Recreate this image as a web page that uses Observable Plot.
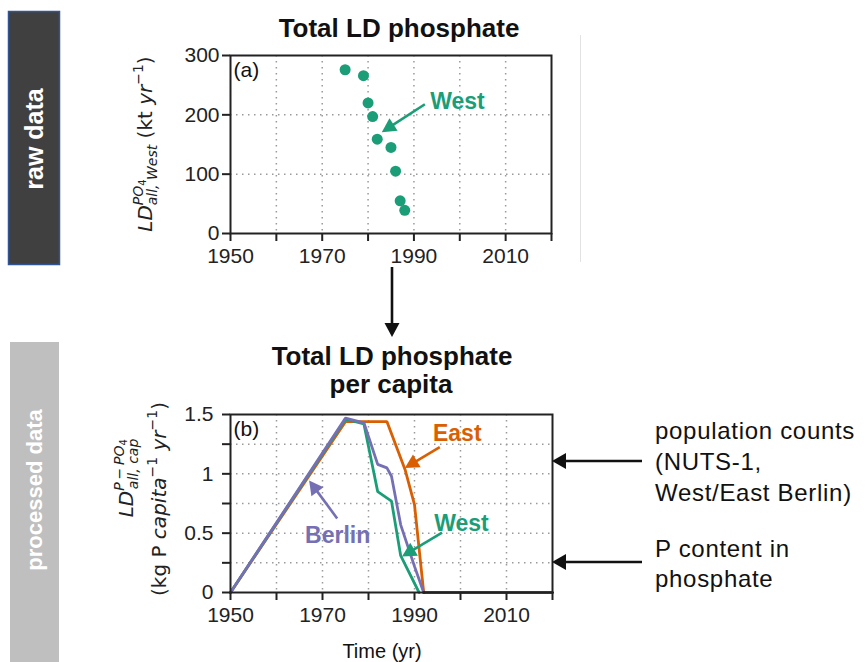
<!DOCTYPE html>
<html><head><meta charset="utf-8">
<script src="https://cdn.jsdelivr.net/npm/d3@7"></script>
<script src="https://cdn.jsdelivr.net/npm/@observablehq/plot@0.6"></script>
<style>
body{margin:0;background:#fff;}
#root{position:relative;width:866px;height:662px;overflow:hidden;font-family:"Liberation Sans",Arial,sans-serif;background:#fff;}
#root svg{position:absolute;left:0;}
</style></head><body><div id="root"></div>
<script>
// ---------- data ----------
const xTicks = [1950, 1960, 1970, 1980, 1990, 2000, 2010, 2020];
const xTickLabels = [1950, 1970, 1990, 2010];
const xGrid = [1960, 1970, 1980, 1990, 2000, 2010];

// panel (a): raw data, West
const topYTicks = [0, 100, 200, 300];
const topYGrid = [100, 200];
const westRawYear = [1975, 1979, 1980, 1981, 1982, 1985, 1986, 1987, 1988];
const westRawValue = [276, 266, 220, 197, 159, 145, 105, 55, 39];

// panel (b): per capita
const botYTicks = [0, 0.25, 0.5, 0.75, 1, 1.25, 1.5];
const botYTickLabels = [0, 0.5, 1, 1.5];
const botYGrid = [0.25, 0.5, 0.75, 1, 1.25];
const eastYear = [1950, 1975, 1984, 1988, 1990, 1992];
const eastValue = [0, 1.44, 1.44, 1.03, 0.74, 0];
const westYear = [1950, 1975, 1979, 1982, 1985, 1987, 1991];
const westValue = [0, 1.46, 1.42, 0.85, 0.77, 0.31, 0];
const berlinYear = [1950, 1975, 1979, 1982, 1984, 1985, 1987, 1990, 1992];
const berlinValue = [0, 1.47, 1.43, 1.08, 1.05, 0.98, 0.57, 0.22, 0];
const afterYear = [1992, 2020];
const afterValue = [0, 0];

// annotations (data coordinates)
const topLabelText = ["West"], topLabelX = [1999.5], topLabelY = [222];
const topArrowX1 = [1992.5], topArrowY1 = [217], topArrowX2 = [1983.1], topArrowY2 = [170];
const botLabelText = ["East", "West", "Berlin"];
const botLabelX = [1999.3, 2000.2, 1973.3];
const botLabelY = [1.34, 0.58, 0.48];
const botArrowX1 = [1995.6, 1996.1, 1973.3], botArrowY1 = [1.22, 0.50, 0.62];
const botArrowX2 = [1988.0, 1987.4, 1967.2], botArrowY2 = [1.045, 0.30, 0.94];

const C = {East: "#d95f02", West: "#1b9e77", Berlin: "#7570b3"};
const FONT = "Liberation Sans, Arial, sans-serif";
const MATHFONT = "DejaVu Sans, sans-serif";

function series(name, years, values) {
  return years.map((y, i) => ({series: name, year: y, value: values[i]}));
}

const gridStyle = {stroke: "#9a9a9a", strokeOpacity: 1, strokeWidth: 1.5, strokeDasharray: "1.5,4.5"};
const root = document.getElementById("root");

// ---------- arrow helper ----------
function arrow(g, x1, y1, x2, y2, color, w = 2.6, hl = 14, hw = 7.5) {
  const dx = x2 - x1, dy = y2 - y1, L = Math.hypot(dx, dy);
  const ux = dx / L, uy = dy / L;
  const bx = x2 - ux * hl, by = y2 - uy * hl;
  g.append("line").attr("x1", x1).attr("y1", y1).attr("x2", bx + ux * 2).attr("y2", by + uy * 2)
    .attr("stroke", color).attr("stroke-width", w);
  g.append("path").attr("d", `M${x2},${y2}L${bx - uy * hw},${by + ux * hw}L${bx + uy * hw},${by - ux * hw}Z`)
    .attr("fill", color);
}

// ---------- panel (a) ----------
const topPlot = Plot.plot({
  width: 866, height: 273,
  marginLeft: 230, marginRight: 315, marginTop: 55, marginBottom: 40,
  style: {fontFamily: FONT, fontSize: "21px", color: "#222", background: "transparent", overflow: "visible"},
  x: {domain: [1950, 2020]},
  y: {domain: [0, 300]},
  marks: [
    Plot.gridX(xGrid, gridStyle),
    Plot.gridY(topYGrid, gridStyle),
    Plot.dot(westRawYear, {x: d => d, y: (d, i) => westRawValue[i], r: 5.5, fill: C.West, stroke: "none"}),
    Plot.frame({stroke: "#222", strokeWidth: 2}),
    Plot.axisX(xTicks, {tickSize: 8, tickPadding: 7, strokeWidth: 2, label: null,
      tickFormat: d => xTickLabels.includes(d) ? String(d) : ""}),
    Plot.axisY(topYTicks, {tickSize: 8, tickPadding: 3, strokeWidth: 2, label: null,
      tickFormat: d => String(d)}),
    Plot.text(["(a)"], {frameAnchor: "top-left", dx: 3, dy: 7, fontSize: 21, textAnchor: "start", lineAnchor: "top", fill: "#111"}),
    Plot.text(topLabelText, {x: topLabelX, y: topLabelY, text: d => d, fill: C.West, fontWeight: "bold", fontSize: 23})
  ]
});
topPlot.style.top = "0px";
root.appendChild(topPlot);
{
  const sx = topPlot.scale("x"), sy = topPlot.scale("y");
  const g = d3.select(topPlot).append("g");
  topArrowX1.forEach((_, i) => arrow(g, sx.apply(topArrowX1[i]), sy.apply(topArrowY1[i]),
    sx.apply(topArrowX2[i]), sy.apply(topArrowY2[i]), C.West));
}

// ---------- panel (b) ----------
const lineData = [
  ...series("East", eastYear, eastValue),
  ...series("West", westYear, westValue),
  ...series("Berlin", berlinYear, berlinValue)
];
const botPlot = Plot.plot({
  width: 866, height: 322,
  marginLeft: 230, marginRight: 314, marginTop: 74, marginBottom: 70,
  style: {fontFamily: FONT, fontSize: "21px", color: "#222", background: "transparent", overflow: "visible"},
  x: {domain: [1950, 2020]},
  y: {domain: [0, 1.5]},
  color: {domain: ["East", "West", "Berlin"], range: [C.East, C.West, C.Berlin]},
  marks: [
    Plot.gridX(xGrid, gridStyle),
    Plot.gridY(botYGrid, gridStyle),
    Plot.line(lineData, {x: "year", y: "value", z: "series", stroke: "series", strokeWidth: 2.8, strokeLinejoin: "miter"}),
    Plot.line(afterYear, {x: d => d, y: (d, i) => afterValue[i], stroke: "#111", strokeWidth: 2.6}),
    Plot.frame({stroke: "#222", strokeWidth: 2}),
    Plot.axisX(xTicks, {tickSize: 8, tickPadding: 7, strokeWidth: 2, label: null,
      tickFormat: d => xTickLabels.includes(d) ? String(d) : ""}),
    Plot.axisY(botYTicks, {tickSize: 8, tickPadding: 9, strokeWidth: 2, label: null,
      tickFormat: d => botYTickLabels.includes(d) ? String(d) : ""}),
    Plot.text(["(b)"], {frameAnchor: "top-left", dx: 3, dy: 7, fontSize: 21, textAnchor: "start", lineAnchor: "top", fill: "#111"}),
    Plot.text(botLabelText, {x: botLabelX, y: botLabelY, text: d => d, fill: d => C[d], fontWeight: "bold", fontSize: 23})
  ]
});
botPlot.style.top = "340px";
root.appendChild(botPlot);
{
  const sx = botPlot.scale("x"), sy = botPlot.scale("y");
  const g = d3.select(botPlot).append("g");
  botArrowX1.forEach((_, i) => arrow(g, sx.apply(botArrowX1[i]), sy.apply(botArrowY1[i]),
    sx.apply(botArrowX2[i]), sy.apply(botArrowY2[i]), C[botLabelText[i]]));
}

// ---------- overlay (side bars, titles, labels, notes) ----------
const ov = d3.select(root).append("svg")
  .attr("width", 866).attr("height", 662)
  .style("top", "0px").style("pointer-events", "none")
  .style("font-family", FONT).style("white-space", "pre");

ov.append("rect").attr("x", 8.5).attr("y", 11.5).attr("width", 51).attr("height", 253)
  .attr("fill", "#404040").attr("stroke", "#2f5597").attr("stroke-width", 1.5);
ov.append("text").attr("transform", "translate(43,139) rotate(-90)").attr("text-anchor", "middle")
  .attr("fill", "#fff").attr("font-weight", "bold").attr("font-size", 25).text("raw data");
ov.append("rect").attr("x", 10).attr("y", 342).attr("width", 49).attr("height", 322).attr("fill", "#bfbfbf");
ov.append("text").attr("transform", "translate(42,490) rotate(-90)").attr("text-anchor", "middle")
  .attr("fill", "#fff").attr("font-weight", "bold").attr("font-size", 22).text("processed data");

ov.append("line").attr("x1", 580.5).attr("x2", 580.5).attr("y1", 35).attr("y2", 262)
  .attr("stroke", "#e2e2e2").attr("stroke-width", 1);

// titles
ov.append("text").attr("x", 399).attr("y", 37).attr("text-anchor", "middle")
  .attr("font-weight", "bold").attr("font-size", 26).attr("fill", "#111").text("Total LD phosphate");
ov.append("text").attr("x", 392).attr("y", 365).attr("text-anchor", "middle")
  .attr("font-weight", "bold").attr("font-size", 26).attr("fill", "#111").text("Total LD phosphate");
ov.append("text").attr("x", 391).attr("y", 393).attr("text-anchor", "middle")
  .attr("font-weight", "bold").attr("font-size", 26).attr("fill", "#111").text("per capita");

// x label
ov.append("text").attr("x", 382).attr("y", 658).attr("text-anchor", "middle")
  .attr("font-size", 20).attr("fill", "#111").text("Time (yr)");

// y label (a)
{
  const t = ov.append("text").attr("transform", "translate(152,144) rotate(-90)")
    .attr("text-anchor", "middle").attr("font-size", 20).attr("fill", "#222").style("font-family", MATHFONT);
  t.append("tspan").attr("font-style", "italic").text("LD");
  t.append("tspan").attr("font-style", "italic").attr("font-size", 14).attr("dy", -9).text("PO");
  t.append("tspan").attr("font-size", 10).attr("dy", 3).text("4");
  t.append("tspan").attr("font-style", "italic").attr("font-size", 14).attr("dx", -26).attr("dy", 11).text("all, West");
  t.append("tspan").attr("dy", -5).text(" (kt ");
  t.append("tspan").attr("font-style", "italic").text("yr");
  t.append("tspan").attr("font-size", 14).attr("dy", -9).text("\u22121");
  t.append("tspan").attr("dy", 9).text(")");
}
// y label (b)
{
  const t = ov.append("text").attr("transform", "translate(133,478) rotate(-90)")
    .attr("text-anchor", "middle").attr("font-size", 20).attr("fill", "#222").style("font-family", MATHFONT);
  t.append("tspan").attr("font-style", "italic").text("LD");
  t.append("tspan").attr("font-style", "italic").attr("font-size", 14).attr("dy", -9).text("P\u2009\u2212\u2009PO");
  t.append("tspan").attr("font-size", 10).attr("dy", 3).text("4");
  t.append("tspan").attr("font-style", "italic").attr("font-size", 14).attr("dx", -50).attr("dy", 11).text("all, cap");

  const t2 = ov.append("text").attr("transform", "translate(166,499) rotate(-90)")
    .attr("text-anchor", "middle").attr("font-size", 20).attr("fill", "#222").style("font-family", MATHFONT);
  t2.append("tspan").text("(kg P ");
  t2.append("tspan").attr("font-style", "italic").text("capita");
  t2.append("tspan").attr("font-size", 14).attr("dy", -9).text("\u22121");
  t2.append("tspan").attr("dy", 9).text(" ");
  t2.append("tspan").attr("font-style", "italic").text("yr");
  t2.append("tspan").attr("font-size", 14).attr("dy", -9).text("\u22121");
  t2.append("tspan").attr("dy", 9).text(")");
}

// right-hand notes
const notes = [
  {y: 439, t: "population counts"}, {y: 470, t: "(NUTS-1,"}, {y: 501, t: "West/East Berlin)"},
  {y: 557, t: "P content in"}, {y: 587, t: "phosphate"}
];
notes.forEach(n => ov.append("text").attr("x", 655).attr("y", n.y).attr("font-size", 24)
  .attr("letter-spacing", "0.7px").attr("fill", "#111").text(n.t));
const og = ov.append("g");
arrow(og, 642, 461, 552, 461, "#111", 2.6, 14, 8);
arrow(og, 642, 562, 552, 562, "#111", 2.6, 14, 8);
arrow(og, 392, 267, 392, 337, "#111", 2.6, 14, 7.5);
</script></body></html>
